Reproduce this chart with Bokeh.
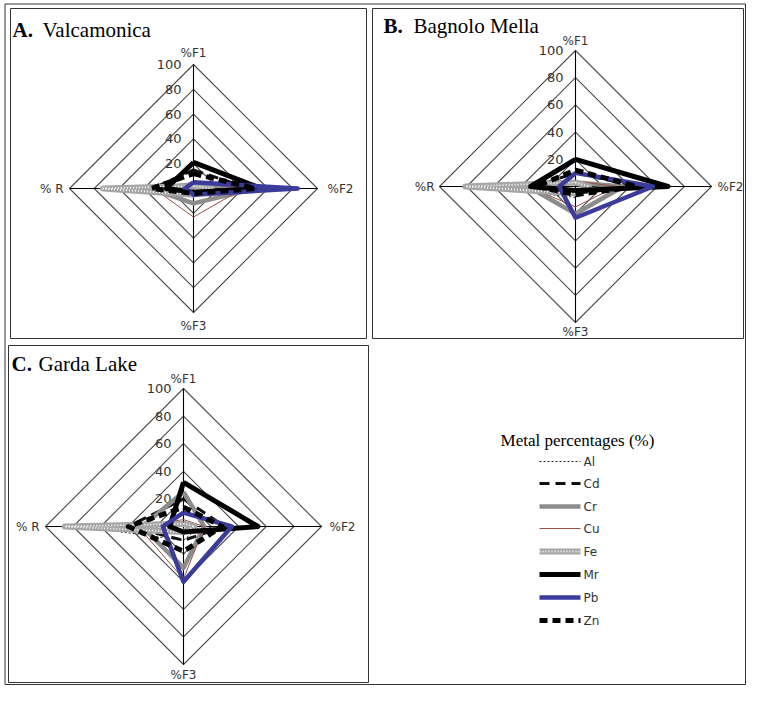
from bokeh.plotting import figure
from bokeh.models import Range1d
from bokeh.core.properties import value
from bokeh.embed import file_html
from bokeh.resources import INLINE

# ---------------- data ----------------
metals = ["Al", "Cd", "Cr", "Cu", "Fe", "Mr", "Pb", "Zn"]
axis_labels = ["%F1", "%F2", "%F3", "% R"]
tick_values = [0, 20, 40, 60, 80, 100]

# A. Valcamonica (order: Al, Cd, Cr, Cu, Fe, Mr, Pb, Zn)
valc_F1 = [3, 15, 3, 5, 2, 21, 5, 12]
valc_F2 = [15, 45, 50, 40, 15, 55, 84, 50]
valc_F3 = [5, 5, 12, 23, 5, 3, 5, 4]
valc_R = [77, 33, 35, 32, 73, 22, 7, 34]

# B. Bagnolo Mella
bagn_F1 = [2, 10, 3, 4, 3, 20, 10, 12]
bagn_F2 = [15, 45, 35, 30, 10, 68, 57, 45]
bagn_F3 = [8, 5, 20, 15, 5, 3, 23, 6]
bagn_R = [75, 30, 35, 35, 81, 33, 12, 29]

# C. Garda Lake
garda_F1 = [3, 20, 25, 5, 2, 32, 10, 14]
garda_F2 = [12, 30, 15, 15, 8, 54, 35, 28]
garda_F3 = [10, 10, 30, 38, 4, 4, 40, 18]
garda_R = [75, 40, 30, 33, 86, 10, 15, 40]

# ---------------- styles ----------------
styles = {
    "Al": dict(color="#222222", width=1, dash="2 2"),
    "Cd": dict(color="#111111", width=3, dash="10 6"),
    "Cr": dict(color="#8c8c8c", width=4.5, dash="solid"),
    "Cu": dict(color="#9b4f45", width=1, dash="solid"),
    "Fe": dict(color="#a6a6a6", width=6, dash="solid"),
    "Mr": dict(color="#000000", width=5, dash="solid"),
    "Pb": dict(color="#3b3b9b", width=4.5, dash="solid"),
    "Zn": dict(color="#000000", width=5, dash="8 5"),
}

p = figure(width=746, height=685, output_backend="svg", toolbar_location=None,
           x_range=Range1d(0, 746), y_range=Range1d(685, 0),
           min_border=0)
p.axis.visible = False
p.grid.visible = False
p.outline_line_color = None
p.background_fill_color = "white"

# frames
frames = [(4.5, 745, 3.5, 684), (10, 366, 8, 338), (372, 743, 8, 338), (8, 368, 345, 682)]
for x0, x1, y0, y1 in frames:
    p.line([x0, x1, x1, x0, x0], [y0, y0, y1, y1, y0], line_color="#333333", line_width=1)

panels = [
    dict(cx=193, cy=188, r=124, letter="A.", name="Valcamonica", tx=12, ty=29, off=30,
         rlabel="% R", vals=(valc_F1, valc_F2, valc_F3, valc_R), lo=(12, 10, 13, 6)),
    dict(cx=575, cy=186, r=136, letter="B.", name="Bagnolo Mella", tx=383, ty=25, off=30,
         rlabel="%R", vals=(bagn_F1, bagn_F2, bagn_F3, bagn_R), lo=(10, 6, 9, 5)),
    dict(cx=183, cy=526, r=138, letter="C.", name="Garda Lake", tx=11, ty=363, off=27,
         rlabel="% R", vals=(garda_F1, garda_F2, garda_F3, garda_R), lo=(10, 8, 10, 6)),
]

# direction vectors for F1 (up), F2 (right), F3 (down), R (left); y axis points down
dirs = [(0, -1), (1, 0), (0, 1), (-1, 0)]
lab_font = value("DejaVu Sans")

for pn in panels:
    cx, cy, r = pn["cx"], pn["cy"], pn["r"]
    o1, o2, o3, o4 = pn["lo"]
    # rings
    xs, ys = [], []
    for t in tick_values[1:]:
        rr = r * t / 100
        xs.append([cx + dx * rr for dx, dy in dirs] + [cx])
        ys.append([cy + dy * rr for dx, dy in dirs] + [cy - rr])
    p.multi_line(xs, ys, line_color="#4d4d4d", line_width=1.1)
    # spokes
    p.multi_line([[cx, cx], [cx - r, cx + r]], [[cy - r, cy + r], [cy, cy]],
                 line_color="#000000", line_width=1.1)
    # tick labels
    p.text([cx - 12] * len(tick_values), [cy - r * t / 100 for t in tick_values],
           text=[str(t) for t in tick_values], text_align="right", text_baseline="middle",
           text_font=lab_font, text_font_size="13px", text_color="#333333")
    # axis labels
    p.text([cx], [cy - r - o1], text=[axis_labels[0]], text_align="center", text_baseline="middle",
           text_font=lab_font, text_font_size="12px", text_color="#333333")
    p.text([cx + r + o2], [cy], text=[axis_labels[1]], text_align="left", text_baseline="middle",
           text_font=lab_font, text_font_size="12px", text_color="#333333")
    p.text([cx], [cy + r + o3], text=[axis_labels[2]], text_align="center", text_baseline="middle",
           text_font=lab_font, text_font_size="12px", text_color="#333333")
    p.text([cx - r - o4], [cy], text=[pn["rlabel"]], text_align="right", text_baseline="middle",
           text_font=lab_font, text_font_size="12px", text_color="#333333")
    # title
    p.text([pn["tx"]], [pn["ty"]], text=[pn["letter"]], text_baseline="alphabetic",
           text_font=value("Liberation Serif"), text_font_size="21px", text_font_style="bold",
           text_color="#000000")
    p.text([pn["tx"] + pn["off"]], [pn["ty"]], text=[pn["name"]], text_baseline="alphabetic",
           text_font=value("Liberation Serif"), text_font_size="21px", text_color="#000000")
    # series
    F1, F2, F3, R = pn["vals"]
    for i, m in enumerate(metals):
        v = [F1[i], F2[i], F3[i], R[i]]
        px = [cx + dx * r * vv / 100 for (dx, dy), vv in zip(dirs, v)]
        py = [cy + dy * r * vv / 100 for (dx, dy), vv in zip(dirs, v)]
        px.append(px[0]); py.append(py[0])
        st = styles[m]
        p.line(px, py, line_color=st["color"], line_width=st["width"], line_dash=st["dash"],
               line_join="round")
        if m == "Fe":
            p.line(px, py, line_color="white", line_width=1.8, line_dash="1 2", line_join="round")

# legend
p.text([577], [440], text=["Metal percentages (%)"], text_align="center", text_baseline="alphabetic",
       text_font=value("Liberation Serif"), text_font_size="17px", text_color="#000000")
leg_y = [461, 483, 506, 528, 551, 574, 597, 620]
for m, yy in zip(metals, leg_y):
    st = styles[m]
    p.line([539, 580], [yy, yy], line_color=st["color"], line_width=st["width"], line_dash=st["dash"])
    if m == "Fe":
        p.line([539, 580], [yy, yy], line_color="white", line_width=1.8, line_dash="1 2")
p.text([583] * len(metals), leg_y, text=metals, text_align="left", text_baseline="middle",
       text_font=lab_font, text_font_size="12px", text_color="#333333")

open("out.html", "w").write(file_html(p, INLINE))
